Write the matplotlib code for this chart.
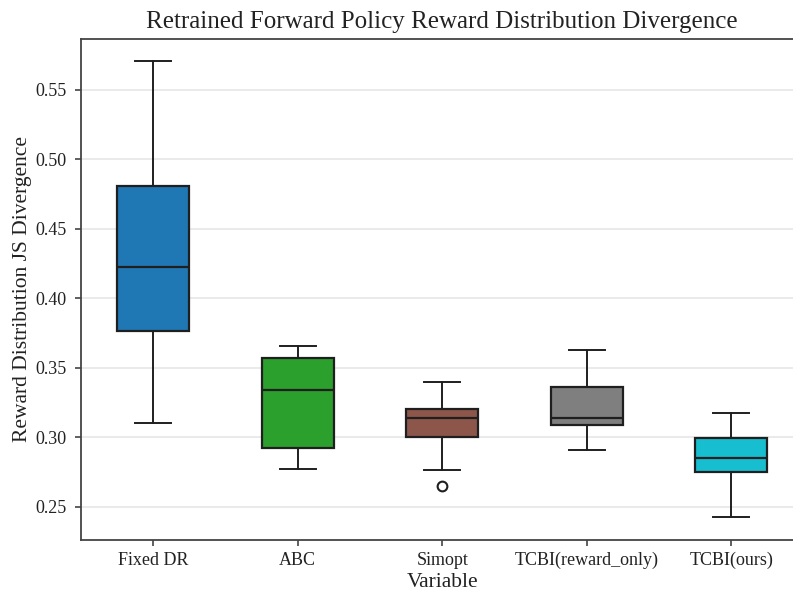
import matplotlib
matplotlib.use("Agg")
import matplotlib.pyplot as plt

plt.rcParams['font.family'] = ['Liberation Serif', 'DejaVu Serif']

categories = ["Fixed DR", "ABC", "Simopt", "TCBI(reward_only)", "TCBI(ours)"]
whislo = [0.310, 0.277, 0.2766, 0.291, 0.2424]
q1 = [0.3766, 0.2924, 0.3004, 0.3086, 0.2752]
med = [0.4227, 0.3342, 0.3138, 0.3136, 0.2848]
q3 = [0.4807, 0.357, 0.320, 0.3363, 0.2996]
whishi = [0.5704, 0.3656, 0.3395, 0.3629, 0.3174]
fliers = [[], [], [0.2649], [], []]
colors = ["#1f77b4", "#2ca02c", "#8c564b", "#7f7f7f", "#17becf"]

W, H = 793, 592
fig = plt.figure(figsize=(W / 100, H / 100), dpi=100)
ax = fig.add_axes([81 / W, (H - 539.7) / H, 722.6 / W, (539.7 - 39) / H])

stats = []
for i, c in enumerate(categories):
    stats.append(dict(label=c, whislo=whislo[i], q1=q1[i], med=med[i],
                      q3=q3[i], whishi=whishi[i], fliers=fliers[i]))

lc = "#1f1f1f"
bp = ax.bxp(stats, positions=range(len(categories)), widths=0.5,
            patch_artist=True, showfliers=True,
            boxprops=dict(edgecolor=lc, linewidth=1.6),
            medianprops=dict(color=lc, linewidth=1.6),
            whiskerprops=dict(color=lc, linewidth=1.4),
            capprops=dict(color=lc, linewidth=1.4),
            flierprops=dict(marker='o', markerfacecolor='white',
                            markeredgecolor=lc, markersize=7, markeredgewidth=1.5))
for patch, col in zip(bp['boxes'], colors):
    patch.set_facecolor(col)

ax.set_xlim(-0.5, 4.5)
ax.set_ylim(0.2263, 0.5865)
ax.set_yticks([0.25, 0.30, 0.35, 0.40, 0.45, 0.50, 0.55])
ax.set_yticklabels(["0.25", "0.30", "0.35", "0.40", "0.45", "0.50", "0.55"])
ax.set_xticks(range(len(categories)))
ax.set_xticklabels(categories)
ax.yaxis.grid(True, color="#e6e6e6", linewidth=1.2)
ax.set_axisbelow(True)
for s in ax.spines.values():
    s.set_color("#444444")
    s.set_linewidth(1.3)
ax.tick_params(axis='both', colors="#444444", labelcolor="#222222",
               labelsize=13, length=4.5, width=1.2)
ax.tick_params(axis='y', pad=6)
ax.tick_params(axis='x', pad=4)
ax.set_xlabel("Variable", fontsize=15.5, color="#222222", labelpad=3)
ax.set_ylabel("Reward Distribution JS Divergence", fontsize=15.5,
              color="#222222", labelpad=2)
ax.set_title("Retrained Forward Policy Reward Distribution Divergence",
             fontsize=18, color="#222222", pad=8)

fig.savefig("out.png", dpi=100)
